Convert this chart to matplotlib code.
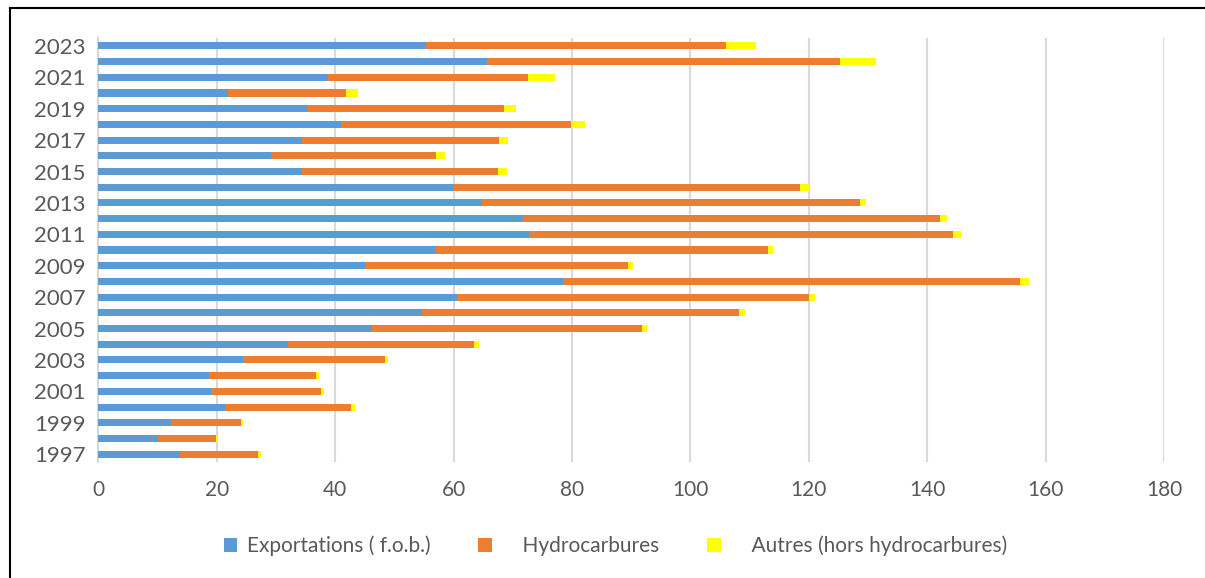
import numpy as np
import matplotlib.pyplot as plt
from matplotlib.lines import Line2D

plt.rcParams['font.family'] = ['Lato', 'DejaVu Sans']

years = list(range(1997, 2024))

# cumulative bar ends read per year (1997 -> 2023)
exports_end = [13.7, 10.1, 12.2, 21.6, 19.0, 18.6, 24.4, 32.1, 46.2, 54.6,
               60.5, 78.5, 45.1, 57.0, 72.7, 71.7, 64.8, 60.0, 34.4, 29.2,
               34.4, 40.9, 35.2, 21.9, 38.7, 65.6, 55.4]
hydro_end = [26.9, 19.8, 24.1, 42.6, 37.6, 36.7, 48.4, 63.5, 91.8, 108.2,
             120.1, 155.6, 89.5, 113.1, 144.4, 142.2, 128.6, 118.5, 67.5, 57.1,
             67.6, 79.9, 68.5, 41.8, 72.5, 125.3, 106.0]
autres_end = [27.5, 20.1, 24.5, 43.3, 38.1, 37.3, 48.9, 64.3, 92.6, 109.3,
              121.0, 157.2, 90.3, 114.0, 145.7, 143.3, 129.6, 120.1, 69.0, 58.5,
              69.1, 82.2, 70.5, 43.8, 77.1, 131.3, 111.0]

exportations = np.array(exports_end)
hydrocarbures = np.array(hydro_end) - exportations
autres = np.array(autres_end) - np.array(hydro_end)

labels = ['Exportations ( f.o.b.)', '    Hydrocarbures', '    Autres (hors hydrocarbures)']
colors = ['#5B9BD5', '#ED7D31', '#FFFF00']

fig = plt.figure(figsize=(12.05, 5.78), dpi=100)
ax = fig.add_axes([0.0817, 0.2007, 0.8843, 0.7335])

y = np.arange(len(years))
h = 0.45
ax.barh(y, exportations, height=h, color=colors[0], label=labels[0], zorder=3)
ax.barh(y, hydrocarbures, left=exportations, height=h, color=colors[1], label=labels[1], zorder=3)
ax.barh(y, autres, left=exportations + hydrocarbures, height=h, color=colors[2], label=labels[2], zorder=3)

ax.set_ylim(-0.5, len(years) - 0.5)
ax.set_xlim(0, 180)
ax.set_xticks(range(0, 181, 20))
ax.set_yticks(y[::2])
ax.set_yticklabels([str(v) for v in years[::2]])

ax.grid(axis='x', color='#D9D9D9', linewidth=1.5, zorder=0)
ax.tick_params(axis='x', length=0, pad=13, labelsize=15, labelcolor='#595959')
ax.tick_params(axis='y', length=0, pad=9, labelsize=16, labelcolor='#595959')
for s in ['top', 'right', 'bottom']:
    ax.spines[s].set_visible(False)
ax.spines['left'].set_color('#D9D9D9')
ax.spines['left'].set_linewidth(1.5)

leg = fig.legend(loc='center', bbox_to_anchor=(0.511, 0.056), ncol=3, frameon=False,
                 fontsize=15, handlelength=0.65, handleheight=0.65,
                 handletextpad=0.45, columnspacing=2.3)
for t in leg.get_texts():
    t.set_color('#595959')

# frame lines on the left and top edges
x0, y0 = 10 / 1205, 1 - 8 / 578
fig.add_artist(Line2D([x0, x0], [0, y0], transform=fig.transFigure, color='black', linewidth=1.5))
fig.add_artist(Line2D([x0, 1], [y0, y0], transform=fig.transFigure, color='black', linewidth=1.5))

fig.savefig('out.png', dpi=100)
